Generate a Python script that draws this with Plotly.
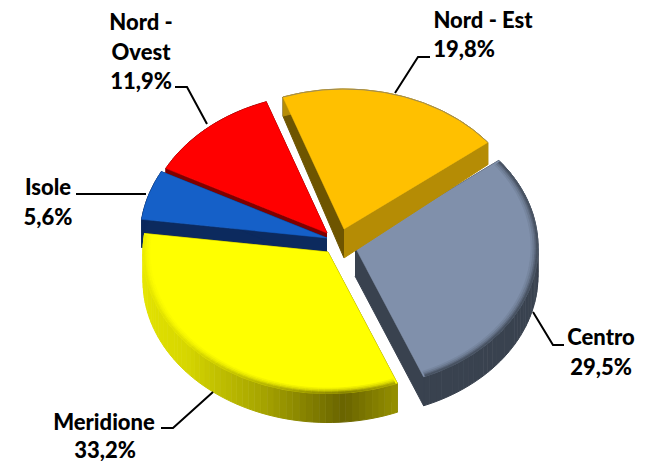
import numpy as np
import plotly.graph_objects as go

# data
categories = ["Nord - Est", "Centro", "Meridione", "Isole", "Nord - Ovest"]
values = [19.8, 29.5, 33.2, 5.6, 11.9]
label_lines = [["Nord - Est"], ["Centro"], ["Meridione"], ["Isole"], ["Nord -", "Ovest"]]

# styles / layout
START = 340.5
K = 0.765
W, H = 650, 461
top_col = {"Nord - Est": "#FFC000", "Centro": "#8090AB", "Meridione": "#FFFF00", "Isole": "#1560C8", "Nord - Ovest": "#FF0000"}
apex = {"Nord - Est": (344, 229), "Centro": (355, 247), "Meridione": (328, 252), "Isole": (327, 238), "Nord - Ovest": (327, 233)}
radius = {"Nord - Est": 183, "Centro": 183, "Meridione": 185, "Isole": 187, "Nord - Ovest": 182}
side_col = {"Nord - Est": ("#6E5500", "#B58C05"), "Centro": ("#39424F", "#39424F"),
            "Meridione": ("#8A8600", "#8A8600"), "Isole": ("#0C2A5E", "#0C2A5E"), "Nord - Ovest": ("#7F0000", "#7F0000")}
wall_stops = {
    "Meridione": ([158, 175, 200, 230, 278], [(150, 145, 0), (105, 100, 0), (165, 163, 0), (215, 215, 0), (235, 235, 0)]),
    "Centro": ([52, 90, 158], [(57, 66, 79), (57, 66, 79), (57, 66, 79)]),
    "Nord - Est": ([0, 60], [(181, 140, 5), (181, 140, 5)]),
    "Isole": ([270, 300], [(12, 42, 94), (12, 42, 94)]),
    "Nord - Ovest": ([290, 345], [(127, 0, 0), (127, 0, 0)]),
}
bevel = {"Meridione": True, "Centro": True}
rim_layers = [(7, 5, 0.12), (5, 3, 0.3), (3, 1.5, 0.55), (1.5, 0, 0.8)]


def depth(y):
    return float(np.clip(19 + (y - 100) * 10 / 130, 19, 29))


def pt(name, a, r=None):
    r = radius[name] if r is None else r
    t = np.radians(a)
    return apex[name][0] + r * np.sin(t), apex[name][1] - K * r * np.cos(t)


def hexrgb(h):
    return tuple(int(h[i:i + 2], 16) for i in (1, 3, 5))


def css(c):
    return "rgb(%d,%d,%d)" % tuple(int(round(v)) for v in c)


fig = go.Figure()


def poly(xs, ys, fill, line=None, lw=1):
    fig.add_trace(go.Scatter(x=list(xs), y=list(ys), mode="lines", fill="toself", fillcolor=fill,
                             line=dict(color=line or fill, width=lw), hoverinfo="skip", showlegend=False))


def wall_rgb(name, mid):
    stops = wall_stops[name]
    m = mid % 360 if name in ("Meridione", "Isole", "Nord - Ovest") else ((mid + 180) % 360 - 180)
    return [np.interp(m, stops[0], [c[i] for c in stops[1]]) for i in range(3)]


bounds = {}
a = START
for c, v in zip(categories, values):
    bounds[c] = (a, a + v * 3.6)
    a += v * 3.6

for name in ["Nord - Ovest", "Isole", "Meridione", "Centro", "Nord - Est"]:
    a0, a1 = bounds[name]
    ax, ay = apex[name]
    # side faces
    for ang, col in zip((a0, a1), side_col[name]):
        ex, ey = pt(name, ang)
        poly([ax, ex, ex, ax], [ay, ey, ey + depth(ey), ay + depth(ay)], col)
    # outer wall
    n = int((a1 - a0) / 2) if name in bevel else 20
    angs = np.linspace(a0, a1, n)
    for s, e in zip(angs[:-1], angs[1:]):
        rgb = wall_rgb(name, (s + e) / 2)
        xs0, ys0 = pt(name, s)
        xe0, ye0 = pt(name, e)
        poly([xs0, xe0, xe0, xs0], [ys0, ye0, ye0 + depth(ye0), ys0 + depth(ys0)], css(rgb))
    # top face
    arc = np.linspace(a0, a1, 120)
    px, py = zip(*[pt(name, q) for q in arc])
    poly([ax] + list(px) + [ax], [ay] + list(py) + [ay], top_col[name], lw=0.5)
    # soft bevel on the rim
    if name in bevel:
        tc = hexrgb(top_col[name])
        r = radius[name]
        rim_angs = np.linspace(a0 + 0.6, a1 - 0.6, n)
        for s, e in zip(rim_angs[:-1], rim_angs[1:]):
            rgb = wall_rgb(name, (s + e) / 2)
            for d0, d1, mix in rim_layers:
                col = css([rgb[i] * mix + tc[i] * (1 - mix) for i in range(3)])
                p1 = pt(name, s, r - d0)
                p2 = pt(name, e, r - d0)
                p3 = pt(name, e, r - d1)
                p4 = pt(name, s, r - d1)
                poly([p1[0], p2[0], p3[0], p4[0]], [p1[1], p2[1], p3[1], p4[1]], col, lw=0.8)
    if name == "Nord - Est":
        fig.add_trace(go.Scatter(x=px, y=py, mode="lines", line=dict(color="#9C8A5A", width=1),
                                 hoverinfo="skip", showlegend=False))

# leader lines
leaders = [
    ([430, 418, 395], [57, 57, 93]),
    ([564, 553, 533], [345, 345, 312]),
    ([161, 173, 213], [428, 428, 392]),
    ([76, 146], [194, 194]),
    ([175, 187, 207], [87, 87, 124]),
]
for xa, ya in leaders:
    fig.add_trace(go.Scatter(x=xa, y=ya, mode="lines", line=dict(color="black", width=2),
                             hoverinfo="skip", showlegend=False))

# labels
anchor = {"Nord - Est": [(483, 22), (464, 51)], "Centro": [(601, 339), (601, 369)],
          "Meridione": [(104, 424), (105, 452)], "Isole": [(48, 189), (48, 219)],
          "Nord - Ovest": [(141, 24), (141, 54), (141, 83)]}
for c, v, lines in zip(categories, values, label_lines):
    texts = lines + [f"{v:.1f}%".replace(".", ",")]
    pts = anchor[c]
    fig.add_trace(go.Scatter(x=[p[0] for p in pts], y=[p[1] for p in pts], text=texts, mode="text",
                             textposition="middle center", hoverinfo="skip", showlegend=False, cliponaxis=False,
                             textfont=dict(family="Lato", size=22, color="black", weight=900)))

fig.update_layout(width=W, height=H, margin=dict(l=0, r=0, t=0, b=0), paper_bgcolor="white", plot_bgcolor="white",
                  xaxis=dict(range=[0, W], visible=False), yaxis=dict(range=[H, 0], visible=False),
                  showlegend=False, hovermode=False)
fig.write_html("out.html", config={"displayModeBar": False})
with open("out.html", encoding="utf-8") as f:
    page = f.read()
page = page.replace("<body>", '<body style="margin:0;overflow:hidden">', 1)
with open("out.html", "w", encoding="utf-8") as f:
    f.write(page)
